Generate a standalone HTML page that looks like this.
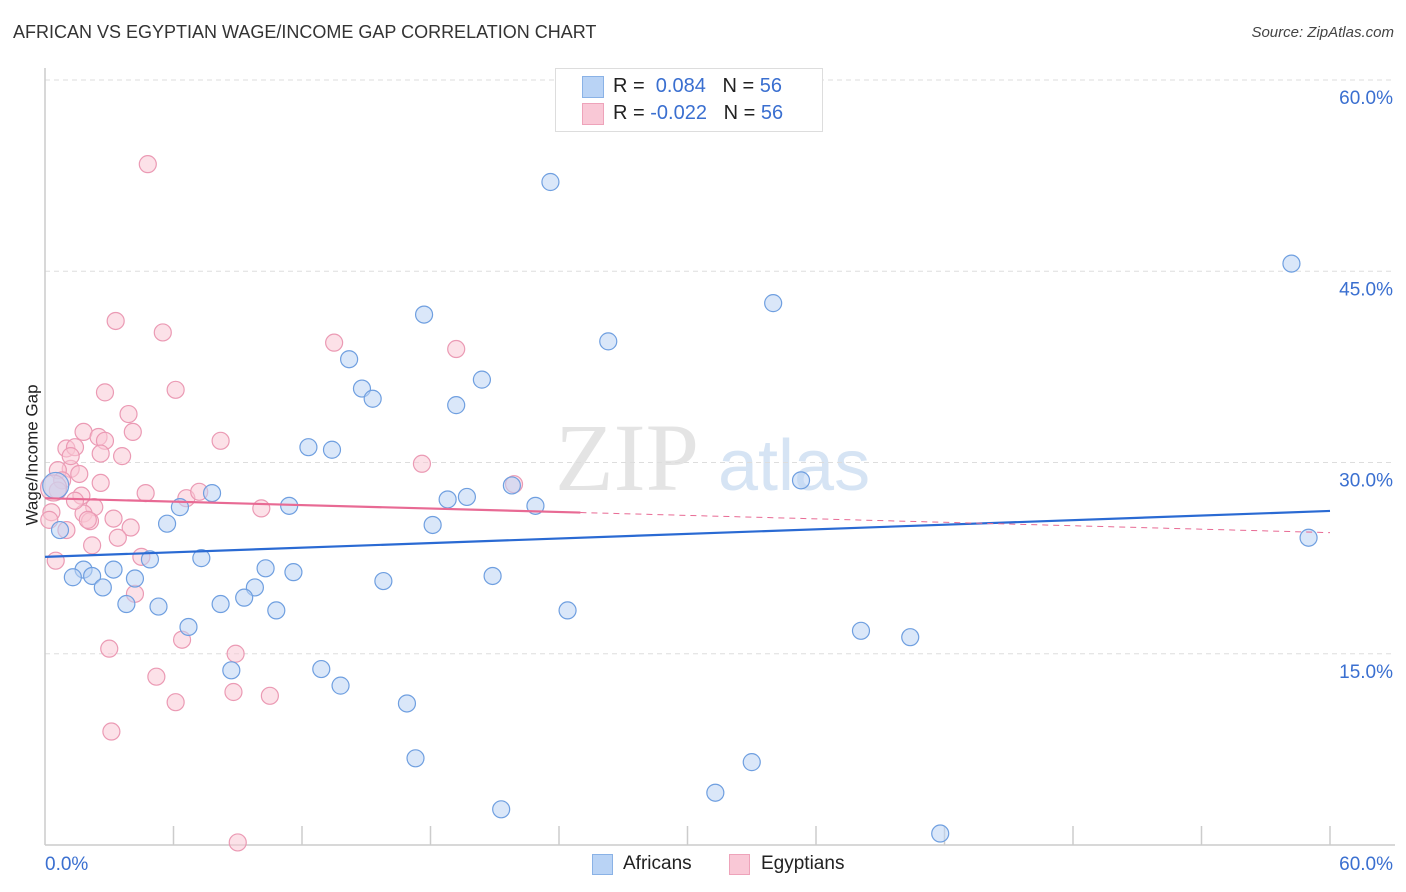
<!DOCTYPE html>
<html><head><meta charset="utf-8">
<style>
body{margin:0;background:#fff;font-family:"Liberation Sans",sans-serif;}
#wrap{position:relative;width:1406px;height:892px;overflow:hidden;}
.t{position:absolute;white-space:nowrap;}
</style></head>
<body>
<div id="wrap">
<div class="t" style="left:13px;top:22px;font-size:18px;color:#333;">AFRICAN VS EGYPTIAN WAGE/INCOME GAP CORRELATION CHART</div>
<div class="t" style="right:12px;top:24px;font-size:15px;color:#444;font-style:italic;">Source: ZipAtlas.com</div>
<div class="t" style="left:-38px;top:445px;font-size:17px;color:#222;transform:rotate(-90deg);">Wage/Income Gap</div>
<svg id="chart" width="1406" height="892" style="position:absolute;left:0;top:0"></svg>
<div style="position:absolute;left:555px;top:68px;width:266px;height:62px;border:1px solid #ddd;background:#fff;">
 <div style="position:absolute;left:26px;top:7px;width:20px;height:20px;background:#b9d3f5;border:1px solid #8ab2e6;"></div>
 <div style="position:absolute;left:26px;top:34px;width:20px;height:20px;background:#f9c8d6;border:1px solid #eea3ba;"></div>
 <div class="t" style="left:57px;top:6px;font-size:20px;color:#222;">R = &nbsp;<span style="color:#3a6fd0">0.084</span>&nbsp;&nbsp;&nbsp;N = <span style="color:#3a6fd0">56</span></div>
 <div class="t" style="left:57px;top:33px;font-size:20px;color:#222;">R = <span style="color:#3a6fd0">-0.022</span>&nbsp;&nbsp;&nbsp;N = <span style="color:#3a6fd0">56</span></div>
</div>
<div style="position:absolute;left:592px;top:854px;width:19px;height:19px;background:#b9d3f5;border:1px solid #8ab2e6;"></div>
<div class="t" style="left:623px;top:853px;font-size:19px;color:#222;">Africans</div>
<div style="position:absolute;left:729px;top:854px;width:19px;height:19px;background:#f9c8d6;border:1px solid #eea3ba;"></div>
<div class="t" style="left:761px;top:853px;font-size:19px;color:#222;">Egyptians</div>
</div>
<script>
const xTickLabels=["0.0%","60.0%"];
const yTicks=[15,30,45,60];
const yTickLabels=["15.0%","30.0%","45.0%","60.0%"];
const afrX=[23.6,58.2,34.0,17.7,26.3,14.2,14.8,15.3,20.4,19.2,12.3,13.4,35.3,21.8,7.8,18.8,19.7,22.9,11.4,6.3,5.7,18.1,59.0,0.7,4.9,7.3,3.2,1.8,2.2,1.3,10.3,11.6,4.2,15.8,20.9,2.7,9.8,9.3,3.8,5.3,8.2,10.8,24.4,6.7,38.1,40.4,8.7,12.9,13.8,16.9,17.3,33.0,31.3,21.3,41.8,0.5];
const afrY=[52.0,45.6,42.5,41.6,39.5,38.1,35.8,35.0,36.5,34.5,31.2,31.0,28.6,28.2,27.6,27.1,27.3,26.6,26.6,26.5,25.2,25.1,24.1,24.7,22.4,22.5,21.6,21.6,21.1,21.0,21.7,21.4,20.9,20.7,21.1,20.2,20.2,19.4,18.9,18.7,18.9,18.4,18.4,17.1,16.8,16.3,13.7,13.8,12.5,11.1,6.8,6.5,4.1,2.8,0.9,28.2];
const egyX=[4.8,3.3,5.5,13.5,19.2,6.1,2.8,3.9,4.1,1.8,2.5,2.8,8.2,1.0,1.4,2.6,3.6,17.6,1.2,0.6,1.6,0.8,2.6,21.9,4.7,6.6,7.2,2.3,10.1,0.3,1.8,2.1,3.2,4.0,3.4,0.5,2.2,4.5,4.2,6.4,3.0,8.9,5.2,6.1,8.8,10.5,3.1,9.0,0.2,1.2,1.7,2.0,1.0,0.6,1.4,0.4];
const egyY=[53.4,41.1,40.2,39.4,38.9,35.7,35.5,33.8,32.4,32.4,32.0,31.7,31.7,31.1,31.2,30.7,30.5,29.9,29.5,29.4,29.1,28.6,28.4,28.3,27.6,27.2,27.7,26.5,26.4,26.1,26.0,25.4,25.6,24.9,24.1,22.3,23.5,22.6,19.7,16.1,15.4,15.0,13.2,11.2,12.0,11.7,8.9,0.2,25.5,30.5,27.4,25.5,24.7,27.8,27.0,28.0];
const afrTrend=[22.6,26.2];
const egyTrend=[27.2,24.5];
const egySolidEnd=25;

const svg=document.getElementById('chart');
const NS='http://www.w3.org/2000/svg';
const X0=45,X1=1330,Y0=845,Y60=80;
const xs=v=>X0+v/60*(X1-X0);
const ys=v=>Y0-v/60*(Y0-Y60);
function mk(tag,attrs){const e=document.createElementNS(NS,tag);for(const k in attrs)e.setAttribute(k,attrs[k]);svg.appendChild(e);return e;}
// watermark
let wm=mk('text',{x:555,y:490,'font-size':96,'font-family':'Liberation Serif,serif',fill:'#e4e4e4'});


wm.textContent='ZIP';
let wm2=mk('text',{x:718,y:490,'font-size':72,'font-family':'Liberation Sans,sans-serif',fill:'#d6e4f4'});


wm2.textContent='atlas';
yTicks.forEach((t,i)=>{
 const g=mk('line',{x1:X0,x2:1395,y1:ys(t),y2:ys(t),stroke:'#ddd','stroke-dasharray':'5,4'});
 
 
 const l=mk('text',{x:1393,y:ys(t)+24,'text-anchor':'end','font-size':19,fill:'#3a6fd0'});
 
 
 l.textContent=yTickLabels[i];
});
let ax=mk('line',{x1:X0,x2:1395,y1:Y0,y2:Y0,stroke:'#ccc','stroke-width':1.5});


let ay=mk('line',{x1:X0,x2:X0,y1:68,y2:Y0,stroke:'#ccc','stroke-width':1.5});


for(let i=1;i<=10;i++){
 const tk=mk('line',{x1:xs(i*6),x2:xs(i*6),y1:826,y2:Y0,stroke:'#ccc','stroke-width':1.5});
 
 
}
let xl0=mk('text',{x:45,y:870,'font-size':19,fill:'#3a6fd0'});


xl0.textContent=xTickLabels[0];
let xl1=mk('text',{x:1393,y:870,'text-anchor':'end','font-size':19,fill:'#3a6fd0'});


xl1.textContent=xTickLabels[1];
function pts(X,Y,fill,stroke,name){
 X.forEach((x,i)=>{
  const big=(x<1&&Y[i]>24&&Y[i]<29&&i===X.length-1);
  const c=mk('circle',{cx:xs(x),cy:ys(Y[i]),r:big?13:8.5,fill:fill,'fill-opacity':0.55,stroke:stroke,'stroke-width':1.2});
  
  
 });
}
pts(egyX,egyY,'#f9c8d6','#eb9ab4','point-egyptians');
pts(afrX,afrY,'#bcd4f4','#6f9fe0','point-africans');
let tA=mk('line',{x1:xs(0),y1:ys(afrTrend[0]),x2:xs(60),y2:ys(afrTrend[1]),stroke:'#2a6ad3','stroke-width':2.2});


const egyAt=v=>egyTrend[0]+(egyTrend[1]-egyTrend[0])*v/60;
let tE=mk('line',{x1:xs(0),y1:ys(egyTrend[0]),x2:xs(egySolidEnd),y2:ys(egyAt(egySolidEnd)),stroke:'#e86a94','stroke-width':2.2});


let tE2=mk('line',{x1:xs(egySolidEnd),y1:ys(egyAt(egySolidEnd)),x2:xs(60),y2:ys(egyTrend[1]),stroke:'#e86a94','stroke-width':1,'stroke-dasharray':'6,5'});


</script>
</body></html>
